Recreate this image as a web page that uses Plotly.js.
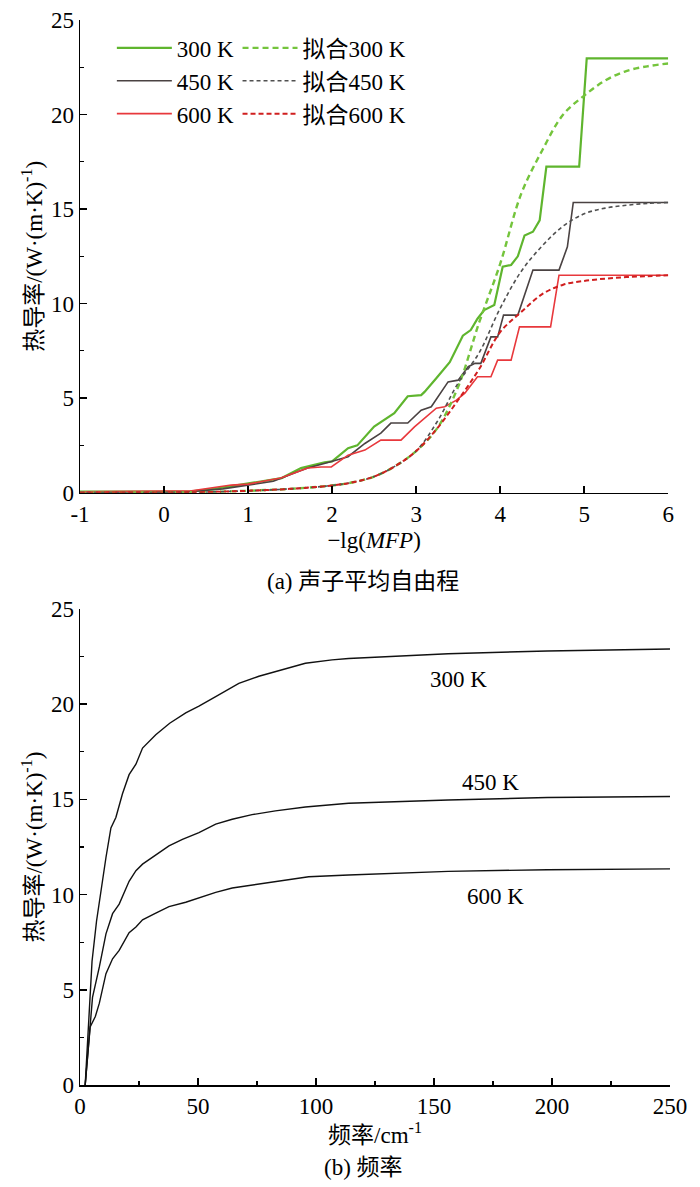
<!DOCTYPE html>
<html>
<head>
<meta charset="utf-8">
<script src="https://cdn.plot.ly/plotly-3.0.1.min.js"></script>
<style>
html,body{margin:0;padding:0;background:#fff;}
#chart{width:700px;height:1187px;}
</style>
</head>
<body>
<div id="chart"></div>
<script>
// ---------- (a) data: -lg(MFP) vs thermal conductivity ----------
const mfp300_x = [-1,0.3,0.6,1.0,1.4,1.63,1.91,2.0,2.19,2.3,2.5,2.74,2.9,3.06,3.1,3.24,3.40,3.556,3.65,3.73,3.81,3.93,4.03,4.13,4.21,4.29,4.39,4.47,4.55,4.94,5.03,6];
const mfp300_y = [0.05,0.05,0.2,0.5,0.77,1.3,1.6,1.65,2.35,2.5,3.5,4.2,5.1,5.16,5.33,6.05,6.9,8.3,8.6,9.2,9.66,9.92,11.95,12.04,12.5,13.6,13.8,14.4,17.24,17.24,22.97,22.97];

const mfp450_x = [-1,0.3,0.7,1.0,1.3,1.59,1.71,1.95,2.19,2.39,2.58,2.70,2.90,3.06,3.18,3.38,3.50,3.62,3.70,3.77,3.89,3.97,4.04,4.21,4.39,4.70,4.80,4.87,6];
const mfp450_y = [0.03,0.05,0.2,0.4,0.6,1.1,1.3,1.6,1.9,2.6,3.15,3.68,3.68,4.36,4.54,5.86,5.95,6.66,6.84,6.84,8.24,8.24,9.39,9.39,11.77,11.77,13.0,15.35,15.35];

const mfp600_x = [-1,0.33,0.8,1.0,1.24,1.39,1.59,1.71,1.87,1.99,2.19,2.39,2.58,2.82,2.98,3.24,3.34,3.48,3.58,3.64,3.73,3.89,3.97,4.13,4.23,4.60,4.70,6];
const mfp600_y = [0.05,0.1,0.4,0.45,0.66,0.77,1.1,1.3,1.36,1.36,1.98,2.25,2.78,2.78,3.48,4.47,4.54,4.89,5.26,5.6,6.13,6.13,7.01,7.01,8.77,8.77,11.5,11.5];

const fit_x = [-1,0,0.5,1,1.5,2,2.25,2.5,2.75,3,3.25,3.5,3.75,4,4.25,4.5,4.75,5,5.25,5.5,5.75,6];
const fit300_y = [0,0.01,0.03,0.1,0.2,0.38,0.55,0.85,1.4,2.2,3.4,5.6,9.0,12.1,15.8,18.1,20.0,21.0,21.8,22.3,22.55,22.7];
const fit450_y = [0,0.01,0.03,0.1,0.2,0.38,0.55,0.85,1.4,2.2,3.75,5.8,7.4,9.75,11.7,13.05,14.1,14.75,15.05,15.2,15.3,15.35];
const fit600_y = [0,0.01,0.03,0.1,0.2,0.38,0.55,0.85,1.4,2.2,3.4,4.9,6.54,8.49,9.55,10.5,11.0,11.2,11.32,11.4,11.45,11.5];

const xTickVals_a = [-1,0,1,2,3,4,5,6];
const xTickText_a = ['-1','0','1','2','3','4','5','6'];

// ---------- (b) data: frequency vs accumulated thermal conductivity ----------
const f300 = [2.2,3.5,5.1,7,8.6,11,13.1,15.2,18,20.8,23.7,26.5,32.1,38,44.8,50.4,57.5,67.3,75.8,85.6,95.5,106.8,113.8,156,198,250];
const k300 = [0,3.2,6.5,8.6,10,11.95,13.5,14.05,15.3,16.3,16.85,17.7,18.4,19.0,19.55,19.9,20.4,21.1,21.47,21.8,22.15,22.33,22.4,22.65,22.8,22.9];
const f450 = [2.2,3.9,5.3,8.2,11,13.8,16.6,20.8,23.7,26.5,32.1,37.7,43.4,50.4,57.5,64.5,72.9,82.8,95.5,113.8,156,198,250];
const k450 = [0,2.5,4.6,6.2,7.94,9.0,9.5,10.7,11.26,11.6,12.1,12.56,12.9,13.26,13.7,13.96,14.2,14.4,14.6,14.8,14.97,15.1,15.15];
const f600 = [2.2,4.3,6.5,8.2,11,13.8,16.6,20.8,23.7,26.5,32.1,37.7,44.8,50.4,57.5,64.5,75.8,87,96.9,113.8,156,198,250];
const k600 = [0,3.05,3.6,4.3,5.85,6.63,7.07,8.0,8.3,8.68,9.03,9.37,9.6,9.83,10.12,10.35,10.56,10.73,10.94,11.03,11.22,11.31,11.35];

const seriesNames = ['300 K','450 K','600 K'];
const fitNames = ['拟合300 K','拟合450 K','拟合600 K'];

const FONT = 'Liberation Serif, Noto Sans CJK SC, serif';
const FS = 23;
const cGreen = '#5fb52e', cGray = '#4a4242', cRed = '#e8383c';
const cGreenD = '#74c43c', cGrayD = '#505050', cRedD = '#d01f1f';

const traces = [
  {x: mfp300_x, y: mfp300_y, name: seriesNames[0], mode:'lines', line:{color:cGreen, width:2.2}, xaxis:'x', yaxis:'y', legend:'legend'},
  {x: mfp450_x, y: mfp450_y, name: seriesNames[1], mode:'lines', line:{color:cGray, width:1.6}, xaxis:'x', yaxis:'y', legend:'legend'},
  {x: mfp600_x, y: mfp600_y, name: seriesNames[2], mode:'lines', line:{color:cRed, width:1.6}, xaxis:'x', yaxis:'y', legend:'legend'},
  {x: fit_x, y: fit300_y, name: fitNames[0], mode:'lines', line:{color:cGreenD, width:2.4, dash:'6px,4px', shape:'spline'}, xaxis:'x', yaxis:'y', legend:'legend2'},
  {x: fit_x, y: fit450_y, name: fitNames[1], mode:'lines', line:{color:cGrayD, width:1.6, dash:'4px,3px', shape:'spline'}, xaxis:'x', yaxis:'y', legend:'legend2'},
  {x: fit_x, y: fit600_y, name: fitNames[2], mode:'lines', line:{color:cRedD, width:2, dash:'5px,3px', shape:'spline'}, xaxis:'x', yaxis:'y', legend:'legend2'},
  {x: f300, y: k300, name: seriesNames[0], mode:'lines', line:{color:'#111', width:1.4}, xaxis:'x2', yaxis:'y2', showlegend:false},
  {x: f450, y: k450, name: seriesNames[1], mode:'lines', line:{color:'#111', width:1.4}, xaxis:'x2', yaxis:'y2', showlegend:false},
  {x: f600, y: k600, name: seriesNames[2], mode:'lines', line:{color:'#111', width:1.4}, xaxis:'x2', yaxis:'y2', showlegend:false}
];

const axisCommon = {
  showline:true, linecolor:'#000', linewidth:1.5, showgrid:false, zeroline:false,
  ticks:'inside', ticklen:7, tickwidth:1.5, tickcolor:'#000',
  tickfont:{family:FONT, size:FS, color:'#000'}, fixedrange:true
};
const yTitle = '热导率/(W·(m·K)<sup>-1</sup>)';

const layout = {
  width:700, height:1187,
  margin:{l:80, r:30, t:20, b:102},
  paper_bgcolor:'#fff', plot_bgcolor:'rgba(0,0,0,0)',
  font:{family:FONT, size:FS, color:'#000'},
  xaxis: Object.assign({}, axisCommon, {
    range:[-1,6], tickvals:xTickVals_a, ticktext:xTickText_a, anchor:'y', domain:[0,0.997],
    title:{text:'−lg(<i>MFP</i>)', font:{family:FONT,size:FS}, standoff:6}
  }),
  yaxis: Object.assign({}, axisCommon, {
    range:[0,25], dtick:5, domain:[0.5562,1], anchor:'x',
    minor:{dtick:2.5, ticks:'inside', ticklen:4, tickwidth:1.2, tickcolor:'#000'},
    title:{text:yTitle, font:{family:FONT,size:FS}, standoff:2}
  }),
  xaxis2: Object.assign({}, axisCommon, {
    range:[0,250], dtick:50, anchor:'y2', domain:[0,1],
    minor:{dtick:25, ticks:'inside', ticklen:4, tickwidth:1.2, tickcolor:'#000'},
    title:{text:'频率/cm<sup>-1</sup>', font:{family:FONT,size:FS}, standoff:4}
  }),
  yaxis2: Object.assign({}, axisCommon, {
    range:[0,25], dtick:5, domain:[0,0.4469], anchor:'x2',
    minor:{dtick:2.5, ticks:'inside', ticklen:4, tickwidth:1.2, tickcolor:'#000'},
    title:{text:yTitle, font:{family:FONT,size:FS}, standoff:2}
  }),
  legend:{x:0.054, y:0.994, xanchor:'left', yanchor:'top', orientation:'v',
    bgcolor:'rgba(0,0,0,0)', borderwidth:0, font:{family:FONT,size:FS}, itemwidth:55, tracegroupgap:0},
  legend2:{x:0.267, y:0.994, xanchor:'left', yanchor:'top', orientation:'v',
    bgcolor:'rgba(0,0,0,0)', borderwidth:0, font:{family:FONT,size:FS}, itemwidth:55, tracegroupgap:0},
  annotations:[
    {xref:'paper', yref:'paper', x:0.48, y:(1085-581)/1065, xanchor:'center', yanchor:'middle', showarrow:false,
     text:'(a) 声子平均自由程', font:{family:FONT,size:FS}},
    {xref:'paper', yref:'paper', x:0.48, y:(1085-1167)/1065, xanchor:'center', yanchor:'middle', showarrow:false,
     text:'(b) 频率', font:{family:FONT,size:FS}},
    {xref:'x2', yref:'y2', x:160.3, y:21.3, xanchor:'center', yanchor:'middle', showarrow:false, text:seriesNames[0], font:{family:FONT,size:FS}},
    {xref:'x2', yref:'y2', x:173.8, y:15.9, xanchor:'center', yanchor:'middle', showarrow:false, text:seriesNames[1], font:{family:FONT,size:FS}},
    {xref:'x2', yref:'y2', x:176, y:9.9, xanchor:'center', yanchor:'middle', showarrow:false, text:seriesNames[2], font:{family:FONT,size:FS}}
  ],
  showlegend:true
};

Plotly.newPlot('chart', traces, layout, {displayModeBar:false, staticPlot:true});
</script>
</body>
</html>
